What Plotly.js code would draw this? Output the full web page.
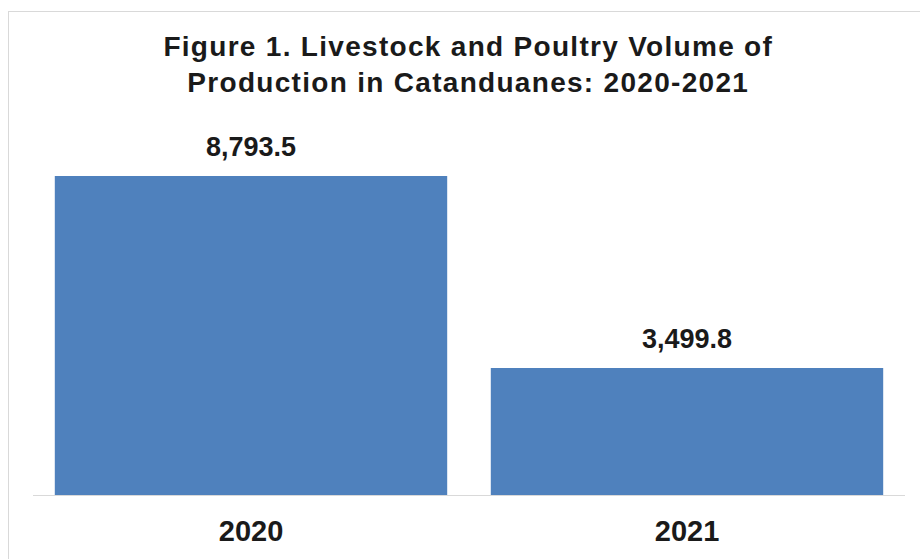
<!DOCTYPE html>
<html>
<head>
<meta charset="utf-8">
<script src="https://cdn.plot.ly/plotly-3.0.1.min.js"></script>
<style>
html,body{margin:0;padding:0;background:#fff;}
#chart{position:absolute;left:0;top:0;width:920px;height:559px;}
#frame{position:absolute;left:8px;top:11px;width:920px;height:560px;border-left:1px solid #d9d9d9;border-top:1px solid #d9d9d9;pointer-events:none;}
.gtitle{letter-spacing:1.3px;}
</style>
</head>
<body>
<div id="chart"></div>
<div id="frame"></div>
<script>
var years = ['2020', '2021'];
var volumes = [8793.5, 3499.8];
var valueLabels = ['8,793.5', '3,499.8'];
var chartTitle = 'Figure 1. Livestock and Poultry Volume of<br>Production in Catanduanes: 2020-2021';

var font = 'Arial, "Liberation Sans", sans-serif';

var annotations = years.map(function (yr, i) {
  return {
    x: i, y: volumes[i], xref: 'x', yref: 'y',
    text: '<b>' + valueLabels[i] + '</b>',
    showarrow: false, yanchor: 'bottom', yshift: 12,
    font: {family: font, size: 27, color: '#1a1a1a'}
  };
});

Plotly.newPlot('chart', [{
  type: 'bar',
  x: years,
  y: volumes,
  marker: {color: '#4f81bd'},
  hoverinfo: 'none'
}], {
  width: 920,
  height: 559,
  margin: {l: 33, r: 15, t: 105, b: 64},
  paper_bgcolor: 'rgba(0,0,0,0)',
  plot_bgcolor: 'rgba(0,0,0,0)',
  bargap: 0.1,
  annotations: annotations,
  title: {
    text: '<b>' + chartTitle + '</b>',
    font: {family: font, size: 28, color: '#1a1a1a'},
    x: 0.509, xanchor: 'center',
    y: 0.9, yanchor: 'top', yref: 'container'
  },
  xaxis: {
    type: 'category',
    range: [-0.5, 1.5],
    showline: true, linecolor: '#d9d9d9', linewidth: 1,
    ticks: '', showgrid: false,
    tickfont: {family: font, size: 29, color: '#1a1a1a'},
    tickprefix: '<b>', ticksuffix: '</b>',
    ticklabelstandoff: 10
  },
  yaxis: {
    visible: false,
    range: [0, 10750],
    showgrid: false, zeroline: false
  },
  showlegend: false
}, {displayModeBar: false, staticPlot: true});
</script>
</body>
</html>
